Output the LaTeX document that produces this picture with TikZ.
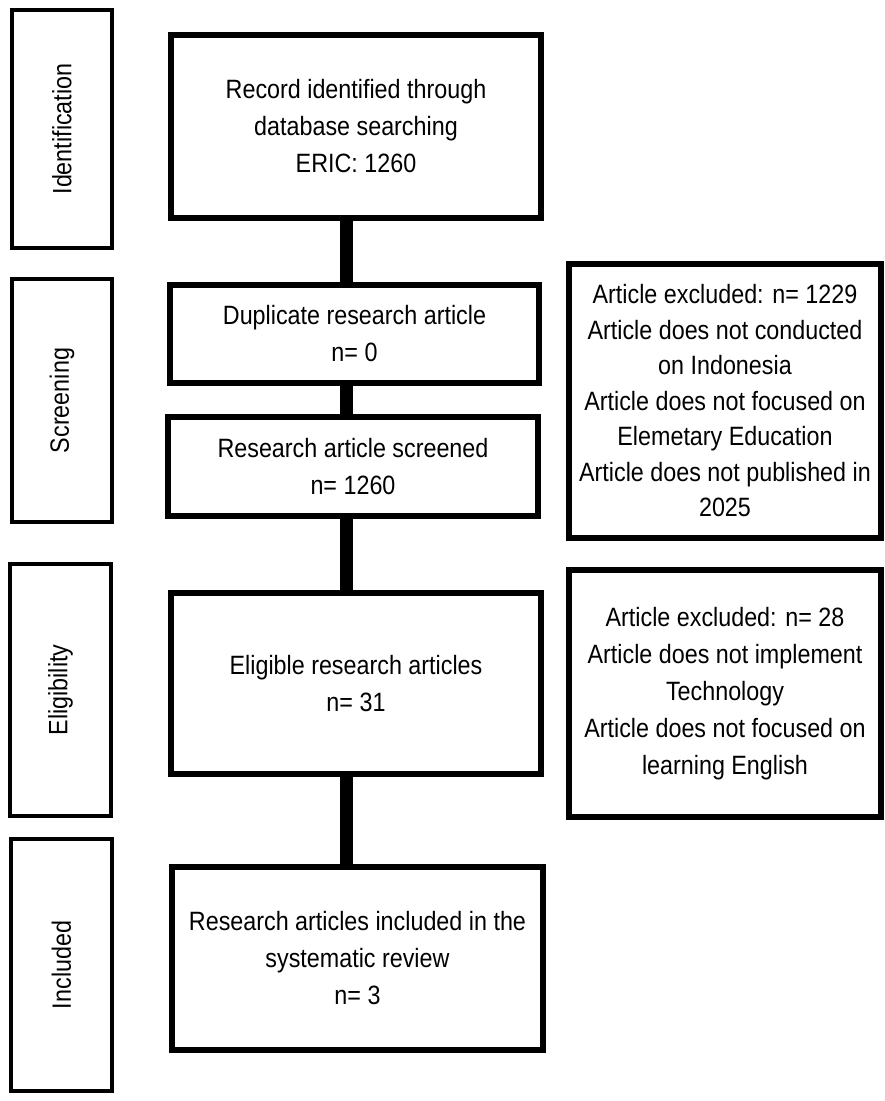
\documentclass[tikz,border=0pt]{standalone}
\usepackage{fontspec}
\setmainfont{Liberation Sans}[FakeStretch=0.88]
\begin{document}
\begin{tikzpicture}[x=1pt,y=1pt,
  every node/.style={font=\fontsize{26.5}{37}\selectfont, align=center, inner sep=0pt},
  mainbox/.style={draw=black, line width=5.5pt, fill=white},
  exclbox/.style={draw=black, line width=6.5pt, fill=white},
  stagebox/.style={draw=black, line width=3.5pt, fill=white, rotate=90},
  conn/.style={draw=black, line width=13pt}]
\fill[white] (0,0) rectangle (885,-1101);
\useasboundingbox (0,0) rectangle (885,-1101);
\coordinate (cx) at (346,0);
% stage boxes
\node[stagebox, minimum width=238pt, minimum height=100pt] (sid) at (62,-129) {Identification};
\node[stagebox, minimum width=243pt, minimum height=100pt] (ssc) at (62,-400.5) {Screening};
\node[stagebox, minimum width=252pt, minimum height=101pt] (sel) at (60.5,-690) {Eligibility};
\node[stagebox, minimum width=252pt, minimum height=101pt] (sin) at (61.5,-965) {Included};
% connectors (drawn below boxes)
\coordinate (recS) at (346,-218);
\coordinate (dupN) at (346,-285);
\coordinate (dupS) at (346,-383);
\coordinate (scrN) at (346,-417);
\coordinate (scrS) at (346,-516);
\coordinate (eliN) at (346,-593);
\coordinate (eliS) at (346,-774);
\coordinate (incN) at (346,-867);
% main boxes
\node[mainbox, minimum width=370pt, minimum height=183pt] (rec) at (356,-126.5) {Record identified through\\database searching\\ERIC: 1260};
\node[mainbox, minimum width=369pt, minimum height=98pt] (dup) at (354.5,-334) {Duplicate research article\\n= 0};
\node[mainbox, minimum width=370pt, minimum height=99pt] (scr) at (353,-466.5) {Research article screened\\n= 1260};
\node[mainbox, minimum width=370pt, minimum height=181pt] (eli) at (356,-683.5) {Eligible research articles\\n= 31};
\node[mainbox, minimum width=371pt, minimum height=183pt] (inc) at (357.5,-958.5) {Research articles included in the\\systematic review\\n= 3};
\draw[conn] (rec.south -| cx) -- (dup.north -| cx);
\draw[conn] (dup.south -| cx) -- (scr.north -| cx);
\draw[conn] (scr.south -| cx) -- (eli.north -| cx);
\draw[conn] (eli.south -| cx) -- (inc.north -| cx);
% exclusion boxes
\node[exclbox, minimum width=312pt, minimum height=274pt, font=\fontsize{26.5}{35.5}\selectfont] (ex1) at (725,-401) {Article excluded: n= 1229\\Article does not conducted\\on Indonesia\\Article does not focused on\\Elemetary Education\\Article does not published in\\2025};
\node[exclbox, minimum width=312pt, minimum height=247pt] (ex2) at (725,-693.5) {Article excluded: n= 28\\Article does not implement\\Technology\\Article does not focused on\\learning English};
\end{tikzpicture}
\end{document}
